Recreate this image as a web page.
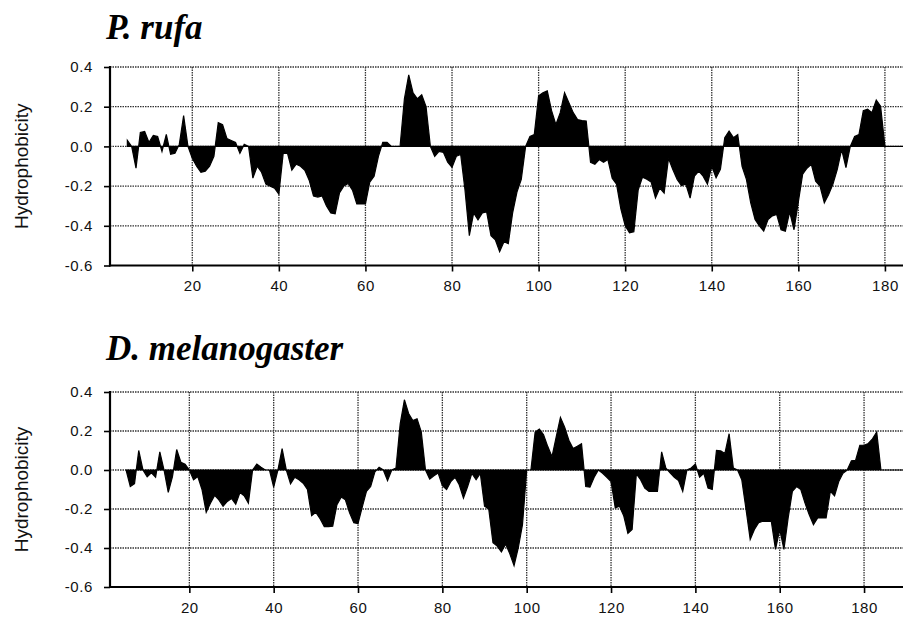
<!DOCTYPE html>
<html>
<head>
<meta charset="utf-8">
<script src="https://cdn.jsdelivr.net/npm/d3@7"></script>
<style>
  body { margin: 0; background: #fff; }
  svg { display: block; }
</style>
</head>
<body>
<div id="chart"></div>
<script>
// Data: hydrophobicity profiles, one value per residue
const rufaStart = 5;
const rufaValues = [
  0.03, 0.0, -0.11, 0.07, 0.075, 0.02, 0.055, 0.05, -0.025, 0.06,
  -0.04, -0.035, 0.01, 0.155, 0.0, -0.06, -0.10, -0.13, -0.125, -0.10,
  -0.05, 0.12, 0.11, 0.04, 0.03, 0.02, -0.035, 0.01, 0.0, -0.16,
  -0.10, -0.13, -0.19, -0.20, -0.21, -0.24, -0.035, -0.035, -0.12, -0.09,
  -0.10, -0.12, -0.17, -0.25, -0.255, -0.25, -0.30, -0.335, -0.34, -0.235,
  -0.20, -0.187, -0.22, -0.29, -0.29, -0.29, -0.18, -0.15, -0.05, 0.02,
  0.02, 0.0, 0.0, 0.0, 0.24, 0.36, 0.27, 0.24, 0.26, 0.20,
  0.0, -0.05, -0.025, -0.03, -0.08, -0.105, -0.05, -0.04, -0.22, -0.45,
  -0.335, -0.37, -0.335, -0.33, -0.45, -0.47, -0.53, -0.48, -0.49, -0.335,
  -0.23, -0.166, 0.0, 0.05, 0.06, 0.255, 0.27, 0.28, 0.18, 0.11,
  0.17, 0.27, 0.22, 0.17, 0.135, 0.13, 0.128, -0.08, -0.09, -0.066,
  -0.08, -0.066, -0.16, -0.19, -0.315, -0.40, -0.435, -0.43, -0.22, -0.155,
  -0.165, -0.18, -0.26, -0.21, -0.235, -0.06, -0.116, -0.166, -0.197, -0.19,
  -0.26, -0.15, -0.124, -0.15, -0.19, -0.10, -0.158, -0.116, 0.044, 0.077,
  0.044, 0.06, -0.10, -0.166, -0.284, -0.368, -0.40, -0.427, -0.368, -0.35,
  -0.343, -0.42, -0.427, -0.33, -0.42, -0.28, -0.14, -0.11, -0.09, -0.175,
  -0.20, -0.284, -0.242, -0.19, -0.116, -0.015, -0.107, 0.0, 0.05, 0.06,
  0.18, 0.187, 0.17, 0.234, 0.203, 0.0, 0, 0, 0, 0, 0, 0
];

const melaStart = 5;
const melaValues = [
  0.0, -0.085, -0.07, 0.10, 0.0, -0.035, -0.014, -0.037, 0.093, 0.0,
  -0.115, -0.034, 0.105, 0.04, 0.03, 0.0, -0.05, -0.034, -0.10, -0.217,
  -0.17, -0.13, -0.153, -0.186, -0.161, -0.146, -0.176, -0.115, -0.132, -0.17,
  0.0, 0.03, 0.014, 0.0, 0.0, -0.088, 0.0, 0.11, 0.0, -0.071,
  -0.037, -0.05, -0.068, -0.10, -0.234, -0.217, -0.25, -0.29, -0.29, -0.288,
  -0.178, -0.139, -0.153, -0.22, -0.27, -0.275, -0.19, -0.11, -0.085, -0.01,
  0.014, 0.0, -0.054, 0.0, 0.01, 0.237, 0.36, 0.29, 0.254, 0.263,
  0.195, 0.0, -0.047, -0.03, -0.016, -0.08, -0.10, -0.06, -0.037, -0.076,
  -0.144, -0.085, -0.017, -0.05, -0.017, -0.186, -0.20, -0.373, -0.39, -0.42,
  -0.38, -0.43, -0.49, -0.40, -0.28, 0.0, 0.0, 0.195, 0.21, 0.18,
  0.12, 0.068, 0.17, 0.27, 0.22, 0.153, 0.11, 0.122, 0.135, -0.085,
  -0.088, -0.037, 0.0, -0.017, -0.037, -0.059, -0.195, -0.186, -0.234, -0.325,
  -0.305, -0.02, -0.05, -0.093, -0.11, -0.11, -0.11, 0.093, 0.01, -0.014,
  -0.037, -0.054, -0.11, 0.0, 0.01, 0.03, -0.037, -0.017, -0.093, -0.10,
  0.10, 0.098, 0.085, 0.186, 0.01, 0.0, -0.05, -0.20, -0.356, -0.305,
  -0.27, -0.263, -0.263, -0.263, -0.407, -0.305, -0.407, -0.246, -0.11, -0.085,
  -0.10, -0.17, -0.23, -0.28, -0.246, -0.246, -0.246, -0.11, -0.132, -0.059,
  -0.017, 0.0, 0.047, 0.05, 0.127, 0.127, 0.136, 0.16, 0.195, 0.0,
  0, 0, 0, 0, 0, 0
];

const yTicks = [0.4, 0.2, 0.0, -0.2, -0.4, -0.6];
const xTicks = [20, 40, 60, 80, 100, 120, 140, 160, 180];

const width = 903;
const height = 626;

const svg = d3
  .select("#chart")
  .append("svg")
  .attr("width", width)
  .attr("height", height);

function drawPanel(opts) {
  const data = opts.values.map((v, i) => ({ pos: opts.start + i, v }));

  // Scales (x0 = pixel of residue 0, k = px per residue)
  const xScale = d3
    .scaleLinear()
    .domain([0, 200])
    .range([opts.x0, opts.x0 + 200 * opts.k]);
  const yScale = d3
    .scaleLinear()
    .domain([-0.6, 0.4])
    .range([opts.bottom, opts.top]);

  const left = 110;
  const g = svg.append("g");

  const clipId = "clip-" + opts.id;
  g.append("clipPath")
    .attr("id", clipId)
    .append("rect")
    .attr("x", left)
    .attr("y", opts.top - 2)
    .attr("width", width - left)
    .attr("height", opts.bottom - opts.top + 4);

  // Grid
  const grid = g.append("g").attr("clip-path", `url(#${clipId})`);
  grid
    .selectAll("line.hgrid")
    .data(yTicks.filter((t) => t > -0.6))
    .join("line")
    .attr("class", "hgrid")
    .attr("x1", left)
    .attr("x2", width)
    .attr("y1", (d) => yScale(d))
    .attr("y2", (d) => yScale(d))
    .attr("stroke", "#333")
    .attr("stroke-width", 1.3)
    .attr("stroke-dasharray", "1.5,1");
  grid
    .selectAll("line.vgrid")
    .data(xTicks)
    .join("line")
    .attr("class", "vgrid")
    .attr("x1", (d) => xScale(d))
    .attr("x2", (d) => xScale(d))
    .attr("y1", opts.top)
    .attr("y2", opts.bottom)
    .attr("stroke", "#333")
    .attr("stroke-width", 1.3)
    .attr("stroke-dasharray", "1.5,1");

  // Profile
  const area = d3
    .area()
    .x((d) => xScale(d.pos))
    .y0(yScale(0))
    .y1((d) => yScale(d.v));
  g.append("path")
    .datum(data)
    .attr("clip-path", `url(#${clipId})`)
    .attr("d", area)
    .attr("fill", "#000")
    .attr("stroke", "#000")
    .attr("stroke-width", 1.2)
    .attr("stroke-linejoin", "miter");

  // Axes
  const yAxis = d3
    .axisLeft(yScale)
    .tickValues(yTicks)
    .tickSize(6)
    .tickPadding(11)
    .tickFormat((d) => d.toFixed(1));
  const yAxisGroup = g
    .append("g")
    .attr("transform", `translate(${left},0)`)
    .call(yAxis);
  yAxisGroup.select(".domain").remove();
  yAxisGroup
    .append("line")
    .attr("x1", 0)
    .attr("x2", 0)
    .attr("y1", opts.top - 1)
    .attr("y2", opts.bottom + 1)
    .attr("stroke", "#000")
    .attr("stroke-width", 2.2);

  const xAxis = d3
    .axisBottom(xScale)
    .tickValues(xTicks)
    .tickSize(6)
    .tickPadding(9)
    .tickFormat(d3.format("d"));
  const xAxisGroup = g
    .append("g")
    .attr("transform", `translate(0,${opts.bottom})`)
    .call(xAxis);
  xAxisGroup.select(".domain").remove();
  xAxisGroup
    .append("line")
    .attr("x1", left - 1)
    .attr("x2", width)
    .attr("y1", 0)
    .attr("y2", 0)
    .attr("stroke", "#000")
    .attr("stroke-width", 2.2);

  g.selectAll(".tick line").attr("stroke", "#000").attr("stroke-width", 1.6);
  g.selectAll(".tick text")
    .attr("fill", "#111")
    .style("font-family", "'Liberation Sans', Arial, sans-serif")
    .style("font-size", "15px")
    .style("letter-spacing", "0.6px");

  // Title
  svg
    .append("text")
    .attr("x", 106)
    .attr("y", opts.titleY)
    .style("font-family", "'Liberation Serif', 'Times New Roman', serif")
    .style("font-weight", "bold")
    .style("font-style", "italic")
    .style("font-size", "35px")
    .attr("fill", "#000")
    .text(opts.title);

  // Y axis label
  svg
    .append("text")
    .attr("transform", `translate(28,${(opts.top + opts.bottom) / 2}) rotate(-90)`)
    .attr("text-anchor", "middle")
    .style("font-family", "'Liberation Sans', Arial, sans-serif")
    .style("font-size", "19px")
    .attr("fill", "#111")
    .text("Hydrophobicity");
}

drawPanel({
  id: "rufa",
  title: "P. rufa",
  titleY: 39,
  values: rufaValues,
  start: rufaStart,
  x0: 105.7,
  k: 4.329,
  top: 67,
  bottom: 265.5
});

drawPanel({
  id: "mela",
  title: "D. melanogaster",
  titleY: 360,
  values: melaValues,
  start: melaStart,
  x0: 105,
  k: 4.217,
  top: 392,
  bottom: 587
});
</script>
</body>
</html>
